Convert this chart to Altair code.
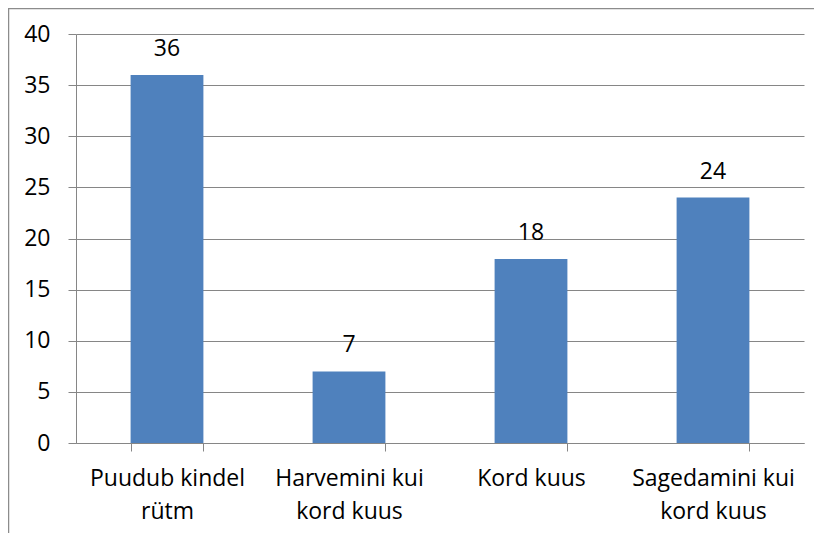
import altair as alt
import pandas as pd

categories = ["Puudub kindel\nrütm", "Harvemini kui\nkord kuus", "Kord kuus", "Sagedamini kui\nkord kuus"]
values = [36, 7, 18, 24]

df = pd.DataFrame({"cat": categories, "val": values})
FONT = "Open Sans"
FS = 23

x_enc = alt.X("cat:N", sort=None, title=None,
              scale=alt.Scale(paddingInner=0.6, paddingOuter=0.3),
              axis=alt.Axis(labelExpr="split(datum.label, '\\n')", labelAngle=0,
                            labelFont=FONT, labelFontSize=FS, labelColor="#000000",
                            labelLineHeight=33, labelPadding=34, labelBaseline="alphabetic",
                            tickBand="extent", tickSize=8, tickColor="#868686",
                            domainColor="#868686", grid=False))
y_enc = alt.Y("val:Q", title=None,
              scale=alt.Scale(domain=[0, 40], nice=False),
              axis=alt.Axis(values=list(range(0, 41, 5)), labelFont=FONT, labelFontSize=FS,
                            labelColor="#000000", labelPadding=18, tickSize=8,
                            tickColor="#868686", domainColor="#868686",
                            gridColor="#868686", gridWidth=1))

bars = alt.Chart(df).mark_bar(color="#4F81BD").encode(x=x_enc, y=y_enc)
labels = alt.Chart(df).mark_text(font=FONT, fontSize=FS, color="#000000",
                                 baseline="alphabetic", dy=-19).encode(
    x=alt.X("cat:N", sort=None), y="val:Q", text="val:Q")

frame = alt.Chart(pd.DataFrame({"a": [0]})).mark_rect(
    fill=None, stroke="#8C8C8C", strokeWidth=1.5).encode(
    x=alt.value(-67.5), x2=alt.value(900), y=alt.value(-25.5), y2=alt.value(700))

chart = alt.layer(frame, bars, labels).properties(
    width=728, height=409,
    autosize=alt.AutoSizeParams(type="none"),
    padding={"left": 68, "top": 26, "right": 10, "bottom": 90},
    background="#FFFFFF",
).configure_view(stroke=None)

chart.save("out.html", embed_options={"renderer": "svg", "actions": False})
